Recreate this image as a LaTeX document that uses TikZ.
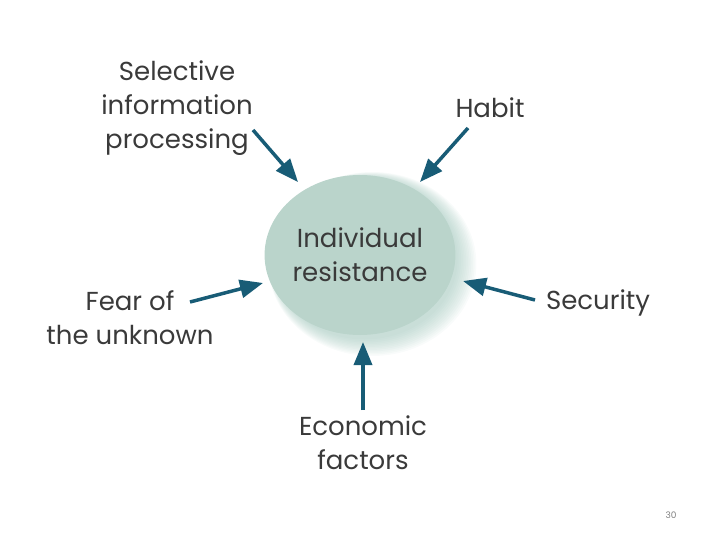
\documentclass[tikz,border=0pt]{standalone}
\usepackage{fontspec}
\setmainfont{Poppins}
\usetikzlibrary{arrows.meta,shapes.geometric}
\definecolor{txt}{RGB}{58,58,58}
\definecolor{arrc}{RGB}{24,92,118}
\definecolor{ellfill}{RGB}{186,212,203}
\definecolor{shad}{RGB}{150,192,180}
\tikzset{
  lbl/.style={text=txt, font=\fontsize{26}{34}\selectfont, align=center, inner sep=0pt},
  arr/.style={draw=arrc, line width=3.5pt, -{Triangle[length=23pt,width=18pt]}},
}
\begin{document}
\begin{tikzpicture}[x=1pt,y=-1pt]
\useasboundingbox (0,0) rectangle (720,540);
% soft shadow
\foreach \i in {1,...,12}{
  \fill[shad, opacity=0.06] (364+0.7*\i,258+0.5*\i) ellipse[x radius={92+\i}, y radius={80+\i}];
}
\node[lbl, ellipse, fill=ellfill, minimum width=184pt, minimum height=160pt] (ell) at (360,255) {Individual\\resistance};
\node[lbl] (sel) at (177,108) {Selective\\information\\processing};
\node[lbl] (habit) at (490,108) {Habit};
\node[lbl] (fear) at (130,318) {Fear of\\the unknown};
\node[lbl] (sec) at (598,303) {Security};
\node[lbl] (eco) at (363,443) {Economic\\factors};
\node[text=gray, font=\fontsize{9}{11}\selectfont, inner sep=0pt] (pg) at (671,515) {30};
\coordinate (t1) at (253,130); \coordinate (h1) at (298,182);
\coordinate (t2) at (468,128); \coordinate (h2) at (420,182);
\coordinate (t3) at (190,302); \coordinate (h3) at (263,283);
\coordinate (t4) at (535,300); \coordinate (h4) at (463,281);
\coordinate (t5) at (363,410); \coordinate (h5) at (363,342);
\draw[arr] (t1) -- (h1);
\draw[arr] (t2) -- (h2);
\draw[arr] (t3) -- (h3);
\draw[arr] (t4) -- (h4);
\draw[arr] (t5) -- (h5);
\end{tikzpicture}
\end{document}
